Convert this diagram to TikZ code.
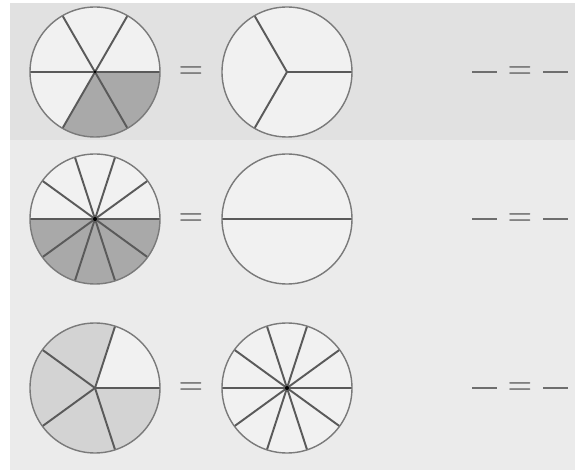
\documentclass[tikz,border=0pt]{standalone}
\usetikzlibrary{calc}
\definecolor{FRBandTop}{HTML}{E1E1E1}
\definecolor{FRBandLow}{HTML}{EBEBEB}
\definecolor{FRPaper}{HTML}{F1F1F1}
\definecolor{FRDark}{HTML}{A9A9A9}
\definecolor{FRLight}{HTML}{D3D3D3}
\definecolor{FRRim}{HTML}{7A7A7A}
\definecolor{FRSpoke}{HTML}{5A5A5A}
\definecolor{FRMark}{HTML}{6E6E6E}
\tikzset{
  disc/.style={circle,fill=FRPaper,draw=none,minimum size=2.6cm,inner sep=0pt,outer sep=0pt},
  rim/.style={draw=FRRim,line width=0.8pt},
  spoke/.style={draw=FRSpoke,line width=1.1pt},
  shadedark/.style={fill=FRDark},
  shadelight/.style={fill=FRLight},
  hub/.style={fill=black},
  eqsign/.style={text=FRMark,font=\fontsize{16}{18}\selectfont\bfseries,inner sep=0pt},
  blank/.style={draw=FRMark,line width=1.7pt},
}
\begin{document}
\begin{tikzpicture}[x=0.02cm,y=0.02cm]
  \useasboundingbox (0,0) rectangle (575,470);
  \fill[FRBandLow] (10,0) rectangle (575,330);
  \fill[FRBandTop] (10,330) rectangle (575,467);

  % row 1: sixths = thirds
  \node[disc] (sixths) at (95,398) {};
  \fill[shadedark] (sixths.center) -- (sixths.0) arc[start angle=0,end angle=-120,radius=65] -- cycle;
  \foreach \a in {0,60,...,300} \draw[spoke] (sixths.center) -- (sixths.\a);
  \draw[rim] (sixths.center) circle[radius=65];
  \fill[hub] (sixths.center) circle[radius=1.5];
  \node[eqsign] (eqa) at (191,398) {=};
  \node[disc] (thirds) at (287,398) {};
  \foreach \a in {0,120,240} \draw[spoke] (thirds.center) -- (thirds.\a);
  \draw[rim] (thirds.center) circle[radius=65];

  % row 2: tenths = halves
  \node[disc] (tenths) at (95,251) {};
  \fill[shadedark] (tenths.center) -- (tenths.180) arc[start angle=180,end angle=360,radius=65] -- cycle;
  \foreach \a in {0,36,...,324} \draw[spoke] (tenths.center) -- (tenths.\a);
  \draw[rim] (tenths.center) circle[radius=65];
  \fill[hub] (tenths.center) circle[radius=2];
  \node[eqsign] (eqb) at (191,251) {=};
  \node[disc] (halves) at (287,251) {};
  \draw[spoke] (halves.180) -- (halves.0);
  \draw[rim] (halves.center) circle[radius=65];

  % row 3: fifths = tenths
  \node[disc] (fifths) at (95,82) {};
  \fill[shadelight] (fifths.center) -- (fifths.72) arc[start angle=72,end angle=360,radius=65] -- cycle;
  \foreach \a in {0,72,...,288} \draw[spoke] (fifths.center) -- (fifths.\a);
  \draw[rim] (fifths.center) circle[radius=65];
  \node[eqsign] (eqc) at (191,82) {=};
  \node[disc] (tenthsb) at (287,82) {};
  \foreach \a in {0,36,...,324} \draw[spoke] (tenthsb.center) -- (tenthsb.\a);
  \draw[rim] (tenthsb.center) circle[radius=65];
  \fill[hub] (tenthsb.center) circle[radius=2];

  % answer blanks
  \foreach \y/\n in {398/a,251/b,82/c}{
    \draw[blank] (472,\y) -- (497,\y);
    \node[eqsign] (ans\n) at (520,\y) {=};
    \draw[blank] (543,\y) -- (568,\y);
  }
\end{tikzpicture}
\end{document}
